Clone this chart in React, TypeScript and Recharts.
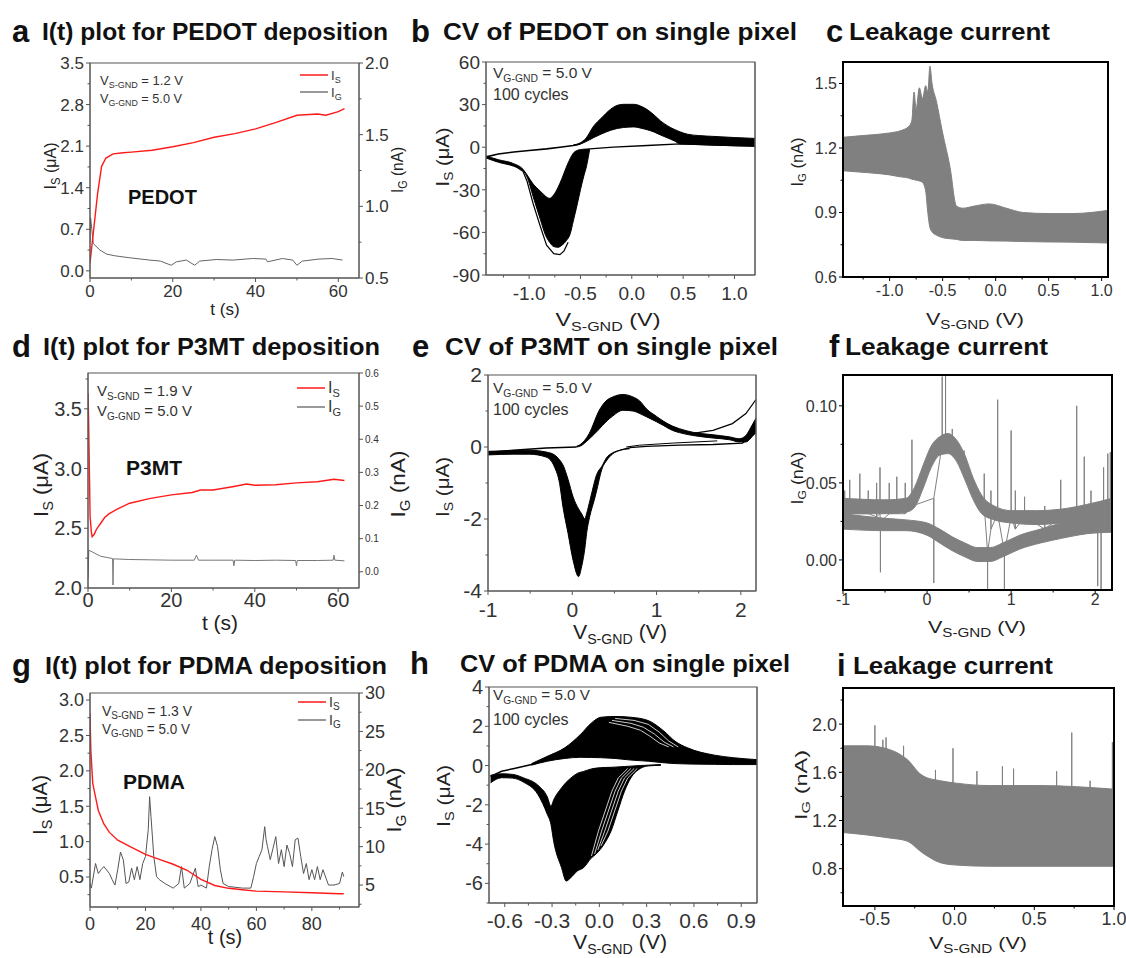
import React from 'react';
import { ComposedChart, Line, Area, XAxis, YAxis } from 'recharts';

const FONT = '"Liberation Sans", Arial, Helvetica, sans-serif';
const RED = '#ff1a1a';
const GREY = '#808080';
const PAD = 70;
const TOP = 20;
const BOT = 60;

// ---------- a: PEDOT deposition, I(t) ----------
const aIs = [[0, 0.13], [0.8, 0.64], [1.85, 1.31], [2.8, 1.76], [3.85, 1.9], [5.6, 1.97], [8, 1.99], [10, 2.0], [15, 2.03], [20, 2.09], [25, 2.16], [30, 2.25], [35, 2.31], [40, 2.39], [45, 2.5], [50, 2.62], [55, 2.64], [57, 2.62], [60, 2.68], [61.5, 2.73]];
const aIg = [[0, 0.75], [0.15, 0.92], [0.8, 0.74], [2.4, 0.695], [4, 0.667], [6, 0.655], [9.6, 0.641], [14.4, 0.625], [17, 0.618], [19.6, 0.589], [20.9, 0.613], [23.3, 0.625], [25.3, 0.589], [26.5, 0.618], [30.5, 0.629], [34.5, 0.625], [39.3, 0.636], [42.5, 0.632], [42.9, 0.613], [46.5, 0.636], [49, 0.625], [50, 0.589], [51.3, 0.618], [55.3, 0.632], [58.5, 0.636], [61, 0.625]];

// ---------- b: CV of PEDOT ----------
const bForward = [[-1.42, -6.8], [-1.3, -4.8], [-1.15, -3.4], [-1.0, -2.3], [-0.83, -1.2], [-0.7, 0], [-0.57, 1.2], [-0.5, 2.2]];
const bAnodic = [[-0.57, 1.2, 1.5], [-0.5, 2.3, 3.2], [-0.45, 3.8, 6], [-0.37, 6.8, 15], [-0.29, 9.5, 21], [-0.21, 11.8, 26.5], [-0.14, 13.2, 29.5], [-0.08, 13.9, 30.2], [0.02, 14.3, 30.2], [0.1, 13.2, 28.5], [0.15, 12.3, 26.5], [0.22, 10.6, 22.5], [0.28, 8.6, 18.5], [0.35, 6.5, 15], [0.41, 4.6, 12.7], [0.47, 2.4, 10.8], [0.54, 2.1, 9.2], [0.65, 1.9, 8.2], [0.8, 1.5, 7.6], [1.0, 1.0, 6.8], [1.2, 0.7, 6.2]];
const bReturn = [[1.2, 0.7], [0.8, 1.4], [0.47, 2.3], [0.15, 1.2], [-0.18, 0], [-0.41, -1.2]];
const bCathodic = [[-1.42, -7.6, -6.2], [-1.3, -10.6, -8.8], [-1.15, -13.4, -11.6], [-1.06, -16.5, -15.5], [-1.02, -21, -19.5], [-0.96, -35, -26], [-0.89, -51, -31], [-0.84, -62, -34.5], [-0.8, -67, -36], [-0.76, -70, -33.5], [-0.72, -70.5, -28.5], [-0.68, -69, -22], [-0.64, -66, -14.5], [-0.6, -61, -8], [-0.57, -52, -4.2], [-0.54, -43, -2.5], [-0.5, -30, -1.7], [-0.47, -21, -1.4], [-0.44, -13, -1.3], [-0.41, -1.3, -1.1]];
const bOuter = [[-1.42, -7], [-1.28, -10], [-1.15, -12.7], [-1.06, -17], [-1.02, -24], [-0.96, -40], [-0.89, -56], [-0.83, -69], [-0.76, -75], [-0.7, -75.7], [-0.66, -73], [-0.62, -67]];

// ---------- c: leakage during PEDOT CV ----------
const cBand = [[-1.44, 1.094, 1.25], [-1.2, 1.085, 1.26], [-1.0, 1.075, 1.27], [-0.9, 1.066, 1.28], [-0.82, 1.06, 1.3], [-0.79, 1.055, 1.33], [-0.77, 1.053, 1.46], [-0.75, 1.05, 1.38], [-0.72, 1.047, 1.48], [-0.69, 1.04, 1.43], [-0.66, 1.0, 1.49], [-0.64, 0.9, 1.46], [-0.62, 0.83, 1.58], [-0.6, 0.81, 1.5], [-0.56, 0.795, 1.42], [-0.5, 0.783, 1.27], [-0.43, 0.778, 1.11], [-0.37, 0.775, 0.93], [-0.31, 0.77, 0.92], [-0.2, 0.77, 0.93], [-0.06, 0.768, 0.94], [0.1, 0.767, 0.92], [0.26, 0.765, 0.9], [0.5, 0.763, 0.895], [0.73, 0.762, 0.895], [0.9, 0.76, 0.9], [1.06, 0.758, 0.91]];

// ---------- d: P3MT deposition, I(t) ----------
const dIs = [[0, 3.63], [0.15, 3.4], [0.3, 3.05], [0.5, 2.6], [0.8, 2.47], [1, 2.43], [1.5, 2.45], [2, 2.49], [3, 2.54], [4, 2.59], [5, 2.62], [7, 2.66], [10, 2.71], [15, 2.75], [20, 2.78], [25, 2.8], [27, 2.82], [30, 2.82], [35, 2.85], [38, 2.87], [40, 2.86], [45, 2.865], [50, 2.88], [55, 2.89], [59, 2.91], [61.5, 2.9]];
const dIg = [[0, -0.02], [0.2, 0.065], [1, 0.06], [3, 0.047], [5, 0.042], [5.9, 0.04], [6, -0.04], [6.1, 0.039], [10, 0.037], [15, 0.036], [20, 0.035], [25.5, 0.035], [26, 0.05], [26.5, 0.035], [30, 0.035], [34.8, 0.035], [35, 0.018], [35.2, 0.035], [40, 0.034], [45, 0.035], [49.8, 0.034], [50, 0.018], [50.2, 0.034], [55, 0.034], [58.8, 0.035], [59, 0.05], [59.2, 0.035], [61.5, 0.033]];

// ---------- e: CV of P3MT ----------
const eForward = [[-1, -0.15], [-0.7, -0.09], [-0.31, -0.03], [0.05, 0]];
const eAnodic = [[0.05, 0, 0.02], [0.09, 0.02, 0.06], [0.2, 0.22, 0.37], [0.32, 0.5, 1.02], [0.4, 0.7, 1.28], [0.48, 0.86, 1.39], [0.6, 1.02, 1.46], [0.72, 1.0, 1.39], [0.8, 0.93, 1.28], [0.88, 0.84, 1.06], [1.0, 0.7, 0.85], [1.08, 0.6, 0.72], [1.19, 0.46, 0.58], [1.27, 0.4, 0.51], [1.43, 0.32, 0.41], [1.67, 0.25, 0.34], [1.87, 0.2, 0.28], [1.98, 0.14, 0.23], [2.06, 0.14, 0.32], [2.12, 0.25, 0.55], [2.18, 0.45, 0.8]];
const eTail = [[1.43, 0.38], [1.67, 0.46], [1.9, 0.65], [2.06, 0.93], [2.18, 1.32]];
const eReturn = [[2.18, 0.4], [2.02, 0.11], [1.67, 0.07], [1.27, 0.05], [0.88, 0.02], [0.68, -0.02]];
const eReturn2 = [[1.72, 0.17], [1.2, 0.11], [0.8, 0.05], [0.64, 0.0]];
const eCathodic = [[-1, -0.22, -0.12], [-0.7, -0.2, -0.1], [-0.51, -0.2, -0.09], [-0.31, -0.28, -0.14], [-0.21, -0.56, -0.22], [-0.15, -1.02, -0.36], [-0.11, -1.67, -0.5], [-0.05, -2.4, -0.9], [0.01, -3.15, -1.39], [0.075, -3.6, -1.72], [0.11, -3.33, -1.85], [0.15, -2.8, -2.0], [0.17, -2.4, -1.85], [0.21, -1.9, -1.48], [0.26, -1.48, -1.0], [0.28, -1.3, -0.83], [0.36, -0.56, -0.5], [0.4, -0.4, -0.32], [0.48, -0.19, -0.16], [0.56, -0.1, -0.09], [0.68, -0.05, -0.02]];

// ---------- f: leakage during P3MT CV ----------
const fUpper = [[-1, 0.03, 0.04], [-0.5, 0.03, 0.039], [-0.25, 0.031, 0.04], [-0.15, 0.034, 0.047], [-0.05, 0.046, 0.061], [0.05, 0.06, 0.074], [0.15, 0.068, 0.08], [0.25, 0.069, 0.082], [0.35, 0.064, 0.078], [0.45, 0.052, 0.068], [0.55, 0.039, 0.053], [0.65, 0.03, 0.042], [0.8, 0.026, 0.035], [1.0, 0.024, 0.032], [1.3, 0.023, 0.032], [1.6, 0.024, 0.033], [1.9, 0.026, 0.036], [2.2, 0.025, 0.04]];
const fLower = [[-1, 0.02, 0.03], [-0.5, 0.019, 0.027], [-0.25, 0.019, 0.026], [0.0, 0.016, 0.024], [0.15, 0.011, 0.02], [0.3, 0.006, 0.015], [0.45, 0.002, 0.011], [0.6, -0.001, 0.008], [0.75, -0.001, 0.008], [0.9, 0.002, 0.011], [1.1, 0.007, 0.016], [1.35, 0.011, 0.02], [1.6, 0.014, 0.024], [1.9, 0.017, 0.027], [2.2, 0.018, 0.03]];
// spikes: [V, level it leaves the band at, tip]
const fSpikes = [[-0.98, 0.03, 0.045], [-0.92, 0.03, 0.052], [-0.8, 0.03, 0.056], [-0.7, 0.03, 0.045], [-0.6, 0.028, 0.05], [-0.56, 0.03, 0.06], [-0.555, 0.025, -0.008], [-0.45, 0.03, 0.05], [-0.36, 0.03, 0.054], [-0.26, 0.03, 0.05], [-0.18, 0.035, 0.078], [0.08, 0.04, -0.015], [0.18, 0.075, 0.119], [0.22, 0.075, 0.121], [0.3, 0.072, 0.085], [0.44, 0.06, 0.071], [0.68, 0.035, 0.056], [0.72, 0.005, -0.02], [0.76, 0.02, 0.045], [0.84, 0.03, 0.104], [0.92, 0.005, -0.02], [1.0, 0.028, 0.084], [1.05, 0.02, 0.045], [1.16, 0.028, 0.041], [1.4, 0.02, 0.035], [1.59, 0.028, 0.052], [1.78, 0.03, 0.1], [1.87, 0.03, 0.067], [1.95, 0.025, 0.045], [2.03, 0.02, -0.017], [2.07, 0.025, -0.02], [2.1, 0.03, 0.06], [2.15, 0.03, 0.069], [2.18, 0.03, 0.07]];

// ---------- g: PDMA deposition, I(t) ----------
const gIs = [[0, 2.81], [0.3, 2.29], [1, 1.82], [2, 1.63], [3, 1.44], [5, 1.25], [7, 1.13], [10, 1.02], [15, 0.92], [20, 0.82], [25, 0.75], [30, 0.68], [35, 0.595], [40, 0.467], [45, 0.38], [50, 0.34], [55, 0.32], [60, 0.3], [70, 0.29], [80, 0.278], [90, 0.263], [91.5, 0.263]];
const gIg = [[0, 5.2], [0.5, 4.6], [2, 7.8], [3, 6.5], [4, 7.0], [5, 7.4], [7, 6.5], [8, 5.7], [9, 5.0], [10, 7.0], [11, 9.3], [12, 8.3], [13, 5.2], [14, 5.4], [15, 7.2], [16, 5.7], [17, 7.4], [18, 5.7], [19, 7.8], [20, 8.7], [21, 12.2], [21.5, 16.5], [22, 13.9], [23, 8.7], [24, 6.1], [25, 5.7], [27, 5.2], [30, 4.6], [32, 5.2], [33, 7.4], [34, 4.6], [36, 5.2], [38, 7.2], [39, 4.8], [40, 5.0], [42, 4.6], [43, 7.4], [44, 9.6], [45, 11.3], [46, 10.0], [47, 7.0], [48, 5.2], [50, 4.8], [55, 4.6], [58, 4.6], [59, 6.1], [60, 7.8], [61, 8.7], [62, 9.6], [63, 12.6], [63.5, 10.9], [64, 10.0], [65, 8.3], [66, 9.8], [67, 11.3], [68, 7.8], [69, 9.6], [70, 7.4], [71, 10.2], [72, 9.1], [73, 7.4], [74, 10.9], [75, 11.1], [76, 8.7], [77, 6.5], [78, 7.8], [79, 5.7], [80, 7.0], [81, 5.7], [82, 7.4], [83, 5.7], [84, 7.0], [86, 5.0], [88, 5.0], [90, 5.2], [91, 6.7], [91.5, 6.1]];

// ---------- h: CV of PDMA ----------
const hForward = [[-0.69, -0.55], [-0.62, -0.29], [-0.54, -0.15], [-0.43, 0.05], [-0.33, 0.3]];
const hAnodic = [[-0.43, 0.02, 0.1], [-0.33, 0.22, 0.47], [-0.22, 0.36, 0.9], [-0.12, 0.42, 1.58], [-0.05, 0.41, 2.17], [0.01, 0.4, 2.46], [0.1, 0.36, 2.5], [0.2, 0.28, 2.46], [0.31, 0.22, 2.29], [0.41, 0.14, 1.75], [0.48, 0.1, 1.24], [0.56, 0.08, 0.9], [0.73, 0.06, 0.53], [0.85, 0.05, 0.4], [1.0, 0.05, 0.3]];
const hCathodic = [[-0.69, -0.88, -0.5], [-0.62, -0.62, -0.42], [-0.55, -0.64, -0.45], [-0.48, -0.85, -0.63], [-0.39, -1.47, -1.0], [-0.33, -2.49, -1.6], [-0.307, -3.0, -2.07], [-0.29, -3.85, -1.75], [-0.24, -5.2, -1.14], [-0.21, -5.88, -0.85], [-0.18, -5.7, -0.63], [-0.14, -5.37, -0.4], [-0.1, -5.2, -0.3], [-0.05, -4.7, -0.17], [-0.02, -4.5, -0.13], [0.03, -4.0, -0.1], [0.074, -3.34, -0.09], [0.117, -2.32, -0.07], [0.16, -1.3, -0.05], [0.2, -0.63, -0.03], [0.26, -0.15, 0.0], [0.31, -0.02, 0.02], [0.39, 0.01, 0.05]];
// white gaps between the last cycles
const hGapsCath = [
  [[0.01, -4.1], [0.054, -3.34], [0.097, -2.32], [0.14, -1.3], [0.18, -0.63], [0.24, -0.15]],
  [[-0.01, -4.3], [0.034, -3.34], [0.077, -2.32], [0.12, -1.3], [0.16, -0.63], [0.22, -0.15]],
  [[-0.03, -4.5], [0.014, -3.34], [0.057, -2.32], [0.1, -1.3], [0.14, -0.63], [0.2, -0.15]],
  [[-0.05, -4.6], [-0.006, -3.34], [0.037, -2.32], [0.08, -1.3], [0.12, -0.63], [0.18, -0.15]],
];
const hGapsAnod = [
  [[0.1, 2.4], [0.22, 2.3], [0.31, 2.1], [0.38, 1.7], [0.44, 1.25], [0.5, 0.95]],
  [[0.08, 2.3], [0.2, 2.15], [0.28, 1.95], [0.35, 1.6], [0.41, 1.2], [0.47, 0.95]],
  [[0.06, 2.2], [0.18, 2.0], [0.26, 1.8], [0.32, 1.5], [0.38, 1.15], [0.44, 0.95]],
];

// ---------- i: leakage during PDMA CV ----------
const iBand = [[-0.7, 1.1, 1.82], [-0.55, 1.08, 1.82], [-0.41, 1.055, 1.79], [-0.3, 1.03, 1.71], [-0.2, 0.93, 1.57], [-0.09, 0.85, 1.53], [0.01, 0.83, 1.51], [0.22, 0.82, 1.49], [0.53, 0.82, 1.49], [1.0, 0.82, 1.46]];
const iSpikes = [[-0.5, 1.75, 1.99], [-0.45, 1.75, 1.87], [-0.43, 1.75, 1.89], [-0.32, 1.68, 1.82], [-0.12, 1.5, 1.62], [-0.01, 1.48, 1.8], [0.14, 1.47, 1.61], [0.3, 1.47, 1.65], [0.37, 1.47, 1.63], [0.64, 1.47, 1.61], [0.735, 1.46, 1.93], [0.85, 1.46, 1.53], [0.99, 1.45, 1.85]];

const pts = (arr: number[][]) => arr.map(([x, y]) => ({ x, y }));
const band = (arr: number[][]) => arr.map(([x, lo, hi]) => ({ x, r: [lo, hi] }));
const spikes = (arr: number[][]) => arr.flatMap(([x, base, tip]) => [{ x, y: base }, { x, y: tip }, { x, y: base }]);
const f1 = (v: number) => v.toFixed(1);
const f2 = (v: number) => v.toFixed(2);
const f0 = (v: number) => String(Math.round(v));

type Rect = { x: number; y: number; w: number; h: number };
type Side = 'bottom' | 'left' | 'right';

const TICK = 4;
const MINOR = 2.5;

// tick renderer: long mark + label for major values, short mark for minor ones
function makeTick(side: Side, major: number[], fmt: (v: number) => string, gap: number, color: string, font: number) {
  return (props: any) => {
    const { x, y, payload } = props;
    const v = payload.value as number;
    const isMajor = major.some((m) => Math.abs(m - v) < 1e-9);
    const len = isMajor ? TICK : MINOR;
    const txt = { fontSize: font, fill: '#333', fontFamily: FONT };
    if (side === 'bottom') {
      const ay = y - TICK - gap;
      return (
        <g>
          <line x1={x} x2={x} y1={ay} y2={ay + len} stroke={color} />
          {isMajor ? <text x={x} y={y} dy="0.71em" textAnchor="middle" {...txt}>{fmt(v)}</text> : null}
        </g>
      );
    }
    if (side === 'left') {
      const ax = x + TICK + gap;
      return (
        <g>
          <line x1={ax - len} x2={ax} y1={y} y2={y} stroke={color} />
          {isMajor ? <text x={x} y={y} dy="0.355em" textAnchor="end" {...txt}>{fmt(v)}</text> : null}
        </g>
      );
    }
    const ax = x - TICK - gap;
    return (
      <g>
        <line x1={ax} x2={ax + len} y1={y} y2={y} stroke={color} />
        {isMajor ? <text x={x} y={y} dy="0.355em" textAnchor="start" {...txt}>{fmt(v)}</text> : null}
      </g>
    );
  };
}

const merge = (a: number[], b: number[] = []) => [...a, ...b].sort((p, q) => p - q);

interface PanelProps {
  rect: Rect;
  xDomain: [number, number];
  xTicks: number[];
  xMinor?: number[];
  xFmt: (v: number) => string;
  xGap: number;
  yDomain: [number, number];
  yTicks: number[];
  yMinor?: number[];
  yFmt: (v: number) => string;
  y2Domain?: [number, number];
  y2Ticks?: number[];
  y2Minor?: number[];
  y2Fmt?: (v: number) => string;
  font: number;
  xFont?: number;
  y2Font?: number;
  axisColor: string;
  axisWidth: number;
  children: React.ReactNode;
}

function Panel(p: PanelProps) {
  const axis = { stroke: p.axisColor, strokeWidth: p.axisWidth };
  return (
    <div style={{ position: 'absolute', left: p.rect.x - PAD, top: p.rect.y - TOP }}>
      <ComposedChart
        width={p.rect.w + 2 * PAD}
        height={p.rect.h + TOP + BOT}
        margin={{ top: TOP, right: 0, bottom: 0, left: 0 }}
      >
        <XAxis xAxisId="b" type="number" dataKey="x" domain={p.xDomain} ticks={merge(p.xTicks, p.xMinor)}
          allowDataOverflow interval={0} height={BOT} axisLine={axis} tickLine={false} tickSize={TICK} tickMargin={p.xGap}
          tick={makeTick('bottom', p.xTicks, p.xFmt, p.xGap, p.axisColor, p.xFont ?? p.font)} />
        <YAxis yAxisId="l" type="number" domain={p.yDomain} ticks={merge(p.yTicks, p.yMinor)}
          allowDataOverflow interval={0} width={PAD} axisLine={axis} tickLine={false} tickSize={TICK} tickMargin={2}
          tick={makeTick('left', p.yTicks, p.yFmt, 2, p.axisColor, p.font)} />
        {p.y2Domain && p.y2Ticks && p.y2Fmt ? (
          <YAxis yAxisId="r" orientation="right" type="number" domain={p.y2Domain} ticks={merge(p.y2Ticks, p.y2Minor)}
            allowDataOverflow interval={0} width={PAD} axisLine={axis} tickLine={false} tickSize={TICK} tickMargin={2}
            tick={makeTick('right', p.y2Ticks, p.y2Fmt, 2, p.axisColor, p.y2Font ?? p.font)} />
        ) : (
          <YAxis yAxisId="r" orientation="right" type="number" domain={p.yDomain}
            allowDataOverflow width={PAD} tick={false} tickLine={false} axisLine={axis} />
        )}
        {p.children}
      </ComposedChart>
    </div>
  );
}

const line = (key: string, data: { x: number; y: number }[], color: string, w: number, axis = 'l') => (
  <Line key={key} xAxisId="b" yAxisId={axis} data={data} dataKey="y" type="linear"
    stroke={color} strokeWidth={w} dot={false} activeDot={false} isAnimationActive={false} />
);
const fillBand = (key: string, data: number[][], color: string) => (
  <Area key={key} xAxisId="b" yAxisId="l" data={band(data)} dataKey="r" type="monotone"
    stroke={color} strokeWidth={1} fill={color} fillOpacity={1} dot={false} activeDot={false} isAnimationActive={false} />
);

function Sub({ x, y, size, base, sub, rest, len, anchor = 'start', rot = false, color = '#222' }: {
  x: number; y: number; size: number; base: string; sub?: string; rest?: string; len?: number;
  anchor?: 'start' | 'middle' | 'end'; rot?: boolean; color?: string;
}) {
  const d = size * 0.24;
  const t = (
    <text x={rot ? 0 : x} y={rot ? size * 0.35 : y} fontSize={size} fill={color} textAnchor={anchor}
      fontFamily={FONT} textLength={len} lengthAdjust={len ? 'spacingAndGlyphs' : undefined}>
      {base}
      {sub ? <tspan fontSize={Math.round(size * 0.68)} dy={d}>{sub}</tspan> : null}
      {rest ? <tspan dy={sub ? -d : 0}>{rest}</tspan> : null}
    </text>
  );
  return rot ? <g transform={`translate(${x},${y}) rotate(-90)`}>{t}</g> : t;
}

function Title({ x, y, letter, lx, text, len }: { x: number; y: number; letter: string; lx: number; text: string; len: number }) {
  return (
    <g fontFamily={FONT} fontWeight={700} fill="#111">
      <text x={lx} y={y + 2} fontSize={31}>{letter}</text>
      <text x={x} y={y} fontSize={24} textLength={len} lengthAdjust="spacingAndGlyphs">{text}</text>
    </g>
  );
}

function Legend({ x, y1, y2, size }: { x: number; y1: number; y2: number; size: number }) {
  return (
    <g>
      <line x1={x} x2={x + 28} y1={y1} y2={y1} stroke={RED} strokeWidth={1.5} />
      <line x1={x} x2={x + 28} y1={y2} y2={y2} stroke="#555" strokeWidth={1.2} />
      <Sub x={x + 31} y={y1 + 5} size={size} base="I" sub="S" color="#333" />
      <Sub x={x + 31} y={y2 + 5} size={size} base="I" sub="G" color="#333" />
    </g>
  );
}

const A: Rect = { x: 90, y: 63, w: 269, h: 215 };
const B: Rect = { x: 486, y: 62, w: 269, h: 213 };
const C: Rect = { x: 843, y: 62, w: 265, h: 215 };
const D: Rect = { x: 88, y: 373, w: 271, h: 215 };
const E: Rect = { x: 488, y: 375, w: 268, h: 216 };
const F: Rect = { x: 843, y: 375, w: 269, h: 215 };
const G: Rect = { x: 90, y: 693, w: 269, h: 214 };
const H: Rect = { x: 489, y: 687, w: 268, h: 216 };
const I: Rect = { x: 843, y: 688, w: 271, h: 218 };

const GRAYAX = '#555';
const thinFrames = [A, B, D, E, G, H];
const boldFrames = [C, F, I];

export default function App() {
  return (
    <div style={{ position: 'absolute', left: 0, top: 0, width: 1126, height: 958, background: '#fff', fontFamily: FONT }}>
      <Panel rect={A} xDomain={[0, 65]} xTicks={[0, 20, 40, 60]} xMinor={[10, 30, 50]} xFmt={f0} xGap={3}
        yDomain={[-0.12, 3.5]} yTicks={[0, 0.7, 1.4, 2.1, 2.8, 3.5]} yMinor={[0.35, 1.05, 1.75, 2.45, 3.15]} yFmt={f1}
        y2Domain={[0.5, 2.0]} y2Ticks={[0.5, 1.0, 1.5, 2.0]} y2Minor={[0.75, 1.25, 1.75]} y2Fmt={f1}
        font={17} axisColor={GRAYAX} axisWidth={1}>
        {[line('ig', pts(aIg), '#666', 1, 'r'), line('is', pts(aIs), RED, 1.4)]}
      </Panel>

      <Panel rect={B} xDomain={[-1.42, 1.2]} xTicks={[-1, -0.5, 0, 0.5, 1]} xMinor={[-1.25, -0.75, -0.25, 0.25, 0.75]} xFmt={f1} xGap={8}
        yDomain={[-90, 60]} yTicks={[-90, -60, -30, 0, 30, 60]} yMinor={[-75, -45, -15, 15, 45]} yFmt={f0}
        font={19} axisColor={GRAYAX} axisWidth={1}>
        {[
          fillBand('an', bAnodic, '#000'),
          fillBand('ca', bCathodic, '#000'),
          line('fw', pts(bForward), '#000', 1.6),
          line('rt', pts(bReturn), '#000', 1.3),
          line('ou', pts(bOuter), '#000', 1.2),
        ]}
      </Panel>

      <Panel rect={C} xDomain={[-1.44, 1.06]} xTicks={[-1, -0.5, 0, 0.5, 1]} xMinor={[-1.25, -0.75, -0.25, 0.25, 0.75]} xFmt={f1} xGap={4}
        yDomain={[0.6, 1.6]} yTicks={[0.6, 0.9, 1.2, 1.5]} yMinor={[0.75, 1.05, 1.35]} yFmt={f1}
        font={16} axisColor="#000" axisWidth={2}>
        {[fillBand('lk', cBand, GREY)]}
      </Panel>

      <Panel rect={D} xDomain={[0, 65]} xTicks={[0, 20, 40, 60]} xMinor={[10, 30, 50]} xFmt={f0} xGap={1}
        yDomain={[2.0, 3.8]} yTicks={[2.0, 2.5, 3.0, 3.5]} yMinor={[2.25, 2.75, 3.25, 3.75]} yFmt={f1}
        y2Domain={[-0.049, 0.6]} y2Ticks={[0, 0.1, 0.2, 0.3, 0.4, 0.5, 0.6]} y2Fmt={f1} y2Font={10}
        font={20} axisColor={GRAYAX} axisWidth={1}>
        {[line('ig', pts(dIg), '#777', 1, 'r'), line('is', pts(dIs), RED, 1.4)]}
      </Panel>

      <Panel rect={E} xDomain={[-1, 2.18]} xTicks={[-1, 0, 1, 2]} xMinor={[-0.5, 0.5, 1.5]} xFmt={f0} xGap={7}
        yDomain={[-4, 2]} yTicks={[-4, -2, 0, 2]} yMinor={[-3, -1, 1]} yFmt={f0}
        font={21} axisColor={GRAYAX} axisWidth={1}>
        {[
          fillBand('an', eAnodic, '#000'),
          fillBand('ca', eCathodic, '#000'),
          line('fw', pts(eForward), '#000', 1.5),
          line('tl', pts(eTail), '#000', 1.2),
          line('rt', pts(eReturn), '#000', 1.3),
          line('rt2', pts(eReturn2), '#000', 1),
        ]}
      </Panel>

      <Panel rect={F} xDomain={[-1, 2.2]} xTicks={[-1, 0, 1, 2]} xMinor={[-0.5, 0.5, 1.5]} xFmt={f0} xGap={0}
        yDomain={[-0.0195, 0.12]} yTicks={[0, 0.05, 0.1]} yMinor={[0.025, 0.075]} yFmt={f2}
        font={16} axisColor="#000" axisWidth={2}>
        {[fillBand('u', fUpper, GREY), fillBand('lo', fLower, GREY), line('sp', spikes(fSpikes), GREY, 1)]}
      </Panel>

      <Panel rect={G} xDomain={[0, 97]} xTicks={[0, 20, 40, 60, 80]} xMinor={[10, 30, 50, 70, 90]} xFmt={f0} xGap={6}
        yDomain={[0.076, 3.1]} yTicks={[0.5, 1.0, 1.5, 2.0, 2.5, 3.0]} yMinor={[0.25, 0.75, 1.25, 1.75, 2.25, 2.75]} yFmt={f1}
        y2Domain={[2.14, 30]} y2Ticks={[5, 10, 15, 20, 25, 30]} y2Minor={[2.5, 7.5, 12.5, 17.5, 22.5, 27.5]} y2Fmt={f0}
        font={18} axisColor={GRAYAX} axisWidth={1}>
        {[line('ig', pts(gIg), '#555', 1, 'r'), line('is', pts(gIs), RED, 1.4)]}
      </Panel>

      <Panel rect={H} xDomain={[-0.7, 1.0]} xTicks={[-0.6, -0.3, 0, 0.3, 0.6, 0.9]} xMinor={[-0.45, -0.15, 0.15, 0.45, 0.75]} xFmt={f1} xGap={6}
        yDomain={[-7, 4]} yTicks={[-6, -4, -2, 0, 2, 4]} yMinor={[-7, -5, -3, -1, 1, 3]} yFmt={f0}
        font={20} xFont={21} axisColor={GRAYAX} axisWidth={1}>
        {[
          fillBand('an', hAnodic, '#000'),
          fillBand('ca', hCathodic, '#000'),
          line('fw', pts(hForward), '#000', 1.5),
          ...hGapsCath.map((g, k) => line(`gc${k}`, pts(g), '#fff', 0.8)),
          ...hGapsAnod.map((g, k) => line(`ga${k}`, pts(g), '#fff', 0.8)),
        ]}
      </Panel>

      <Panel rect={I} xDomain={[-0.7, 1.0]} xTicks={[-0.5, 0, 0.5, 1]} xMinor={[-0.25, 0.25, 0.75]} xFmt={f1} xGap={2}
        yDomain={[0.49, 2.3]} yTicks={[0.8, 1.2, 1.6, 2.0]} yMinor={[0.6, 1.0, 1.4, 1.8, 2.2]} yFmt={f1}
        font={18} axisColor="#000" axisWidth={2}>
        {[fillBand('lk', iBand, GREY), line('sp', spikes(iSpikes), GREY, 1)]}
      </Panel>

      <svg width={1126} height={958} style={{ position: 'absolute', left: 0, top: 0, pointerEvents: 'none' }}>
        {thinFrames.map((r, k) => (
          <rect key={`tf${k}`} x={r.x} y={r.y} width={r.w} height={r.h} fill="none" stroke={GRAYAX} strokeWidth={1} />
        ))}
        {boldFrames.map((r, k) => (
          <rect key={`bf${k}`} x={r.x} y={r.y} width={r.w} height={r.h} fill="none" stroke="#000" strokeWidth={2} />
        ))}

        <Title lx={12} x={42} y={40} letter="a" text="I(t) plot for PEDOT deposition" len={346} />
        <Title lx={411} x={443} y={40} letter="b" text="CV of PEDOT on single pixel" len={354} />
        <Title lx={826} x={849} y={40} letter="c" text="Leakage current" len={201} />
        <Title lx={12} x={43} y={355} letter="d" text="I(t) plot for P3MT deposition" len={337} />
        <Title lx={412} x={445} y={355} letter="e" text="CV of P3MT on single pixel" len={333} />
        <Title lx={829} x={845} y={355} letter="f" text="Leakage current" len={203} />
        <Title lx={12} x={45} y={674} letter="g" text="I(t) plot for PDMA deposition" len={342} />
        <Title lx={410} x={460} y={672} letter="h" text="CV of PDMA on single pixel" len={330} />
        <Title lx={837} x={853} y={674} letter="i" text="Leakage current" len={200} />

        {/* a */}
        <Sub x={100} y={85} size={13} base="V" sub="S-GND" rest=" = 1.2 V" len={83} color="#333" />
        <Sub x={100} y={103} size={13} base="V" sub="G-GND" rest=" = 5.0 V" len={82} color="#333" />
        <text x={128} y={204} fontSize={20} fontWeight={700} fontFamily={FONT} fill="#111">PEDOT</text>
        <Legend x={300} y1={75} y2={92} size={13} />
        <Sub x={225} y={315} size={17} base="t (s)" anchor="middle" />
        <Sub x={50} y={166} size={17} base="I" sub="S" rest=" (μA)" anchor="middle" rot len={47} />
        <Sub x={397} y={170} size={17} base="I" sub="G" rest=" (nA)" anchor="middle" rot len={46} />

        {/* b */}
        <Sub x={493} y={78} size={15} base="V" sub="G-GND" rest=" = 5.0 V" len={99} color="#333" />
        <text x={493} y={100} fontSize={16} fontFamily={FONT} fill="#333">100 cycles</text>
        <Sub x={608} y={326} size={19} base="V" sub="S-GND" rest=" (V)" anchor="middle" len={105} />
        <Sub x={442} y={157} size={19} base="I" sub="S" rest=" (μA)" anchor="middle" rot len={59} />

        {/* c */}
        <Sub x={975} y={325} size={17} base="V" sub="S-GND" rest=" (V)" anchor="middle" len={98} />
        <Sub x={797} y={162} size={16} base="I" sub="G" rest=" (nA)" anchor="middle" rot len={49} />

        {/* d */}
        <Sub x={97} y={396} size={15} base="V" sub="S-GND" rest=" = 1.9 V" len={95} color="#333" />
        <Sub x={97} y={416} size={15} base="V" sub="G-GND" rest=" = 5.0 V" len={95} color="#333" />
        <text x={126} y={475} fontSize={21} fontWeight={700} fontFamily={FONT} fill="#111">P3MT</text>
        <Legend x={297} y1={388} y2={407} size={16} />
        <Sub x={220} y={630} size={21} base="t (s)" anchor="middle" />
        <Sub x={41} y={485} size={21} base="I" sub="S" rest=" (μA)" anchor="middle" rot len={64} />
        <Sub x={398} y={484} size={21} base="I" sub="G" rest=" (nA)" anchor="middle" rot len={67} />

        {/* e */}
        <Sub x={493} y={393} size={15} base="V" sub="G-GND" rest=" = 5.0 V" len={99} color="#333" />
        <text x={493} y={415} fontSize={16} fontFamily={FONT} fill="#333">100 cycles</text>
        <Sub x={620} y={639} size={21} base="V" sub="S-GND" rest=" (V)" anchor="middle" len={94} />
        <Sub x={442} y={487} size={19} base="I" sub="S" rest=" (μA)" anchor="middle" rot len={60} />

        {/* f */}
        <Sub x={977} y={633} size={17} base="V" sub="S-GND" rest=" (V)" anchor="middle" len={98} />
        <Sub x={797} y={478} size={16} base="I" sub="G" rest=" (nA)" anchor="middle" rot len={53} />

        {/* g */}
        <Sub x={102} y={716} size={14} base="V" sub="S-GND" rest=" = 1.3 V" len={90} color="#333" />
        <Sub x={102} y={734} size={14} base="V" sub="G-GND" rest=" = 5.0 V" len={88} color="#333" />
        <text x={123} y={789} fontSize={21} fontWeight={700} fontFamily={FONT} fill="#111">PDMA</text>
        <Legend x={298} y1={702} y2={720} size={14} />
        <Sub x={225} y={944} size={20} base="t (s)" anchor="middle" />
        <Sub x={40} y={805} size={20} base="I" sub="S" rest=" (μA)" anchor="middle" rot len={60} />
        <Sub x={394} y={800} size={20} base="I" sub="G" rest=" (nA)" anchor="middle" rot len={65} />

        {/* h */}
        <Sub x={493} y={700} size={15} base="V" sub="G-GND" rest=" = 5.0 V" len={97} color="#333" />
        <text x={493} y={725} fontSize={16} fontFamily={FONT} fill="#333">100 cycles</text>
        <Sub x={620} y={949} size={21} base="V" sub="S-GND" rest=" (V)" anchor="middle" len={94} />
        <Sub x={443} y={796} size={19} base="I" sub="S" rest=" (μA)" anchor="middle" rot len={62} />

        {/* i */}
        <Sub x={978} y={949} size={17} base="V" sub="S-GND" rest=" (V)" anchor="middle" len={98} />
        <Sub x={801} y={785} size={16} base="I" sub="G" rest=" (nA)" anchor="middle" rot len={70} />
      </svg>
    </div>
  );
}
